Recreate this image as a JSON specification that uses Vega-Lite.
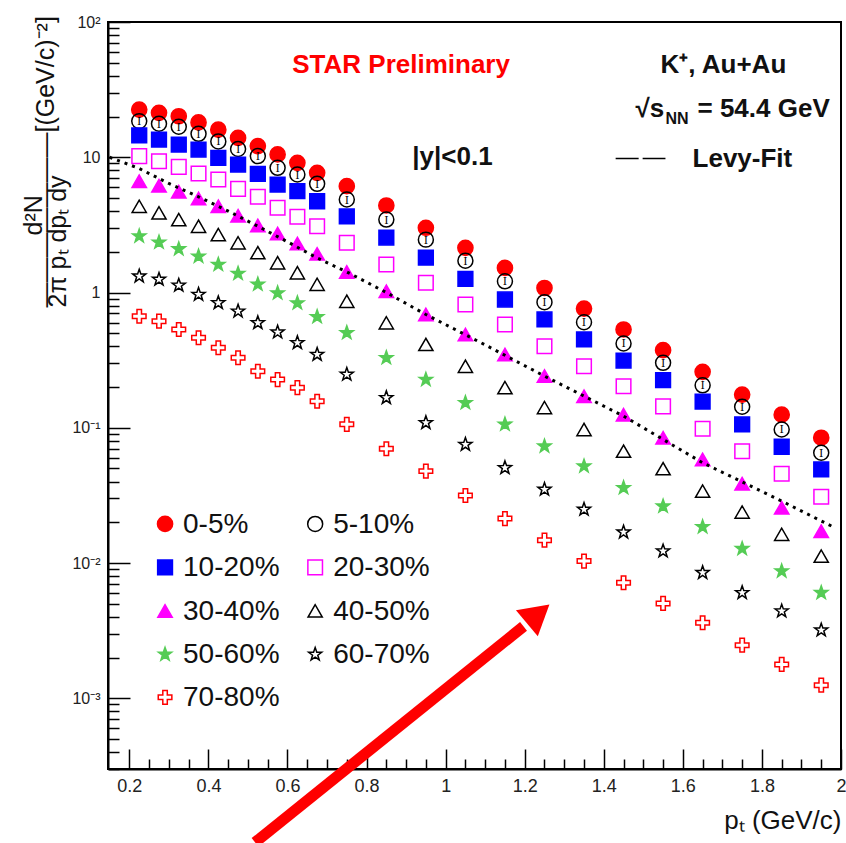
{
  "$schema": "https://vega.github.io/schema/vega-lite/v6.json",
  "width": 733,
  "height": 747,
  "autosize": {"type": "none"},
  "padding": {"left": 108, "top": 22, "right": 5, "bottom": 74},
  "background": "white",
  "config": {
    "font": "Liberation Sans",
    "view": {"stroke": "black", "strokeWidth": 2},
    "axis": {"grid": false, "domainColor": "black", "domainWidth": 2, "tickColor": "black", "tickWidth": 1.5, "labelColor": "#222", "titleColor": "#111", "titleFontWeight": "normal", "labelOverlap": false, "labelBound": false, "labelFlush": false}
  },
  "datasets": {
    "spectra": [
      {"c":"0-5%","pt":0.225,"v":22.5},{"c":"0-5%","pt":0.275,"v":21.3},{"c":"0-5%","pt":0.325,"v":20.1},{"c":"0-5%","pt":0.375,"v":18.1},{"c":"0-5%","pt":0.425,"v":16.0},{"c":"0-5%","pt":0.475,"v":13.9},{"c":"0-5%","pt":0.525,"v":12.1},{"c":"0-5%","pt":0.575,"v":10.5},{"c":"0-5%","pt":0.625,"v":9.09},{"c":"0-5%","pt":0.675,"v":7.67},{"c":"0-5%","pt":0.75,"v":6.11},{"c":"0-5%","pt":0.85,"v":4.40},{"c":"0-5%","pt":0.95,"v":3.01},{"c":"0-5%","pt":1.05,"v":2.14},{"c":"0-5%","pt":1.15,"v":1.52},{"c":"0-5%","pt":1.25,"v":1.08},{"c":"0-5%","pt":1.35,"v":0.761},{"c":"0-5%","pt":1.45,"v":0.533},{"c":"0-5%","pt":1.55,"v":0.375},{"c":"0-5%","pt":1.65,"v":0.259},{"c":"0-5%","pt":1.75,"v":0.176},{"c":"0-5%","pt":1.85,"v":0.125},{"c":"0-5%","pt":1.95,"v":0.0844},
      {"c":"5-10%","pt":0.225,"v":18.5},{"c":"5-10%","pt":0.275,"v":17.7},{"c":"5-10%","pt":0.325,"v":16.8},{"c":"5-10%","pt":0.375,"v":14.9},{"c":"5-10%","pt":0.425,"v":13.1},{"c":"5-10%","pt":0.475,"v":11.5},{"c":"5-10%","pt":0.525,"v":10.2},{"c":"5-10%","pt":0.575,"v":8.35},{"c":"5-10%","pt":0.625,"v":7.45},{"c":"5-10%","pt":0.675,"v":6.36},{"c":"5-10%","pt":0.75,"v":4.87},{"c":"5-10%","pt":0.85,"v":3.46},{"c":"5-10%","pt":0.95,"v":2.46},{"c":"5-10%","pt":1.05,"v":1.72},{"c":"5-10%","pt":1.15,"v":1.21},{"c":"5-10%","pt":1.25,"v":0.848},{"c":"5-10%","pt":1.35,"v":0.603},{"c":"5-10%","pt":1.45,"v":0.42},{"c":"5-10%","pt":1.55,"v":0.302},{"c":"5-10%","pt":1.65,"v":0.206},{"c":"5-10%","pt":1.75,"v":0.143},{"c":"5-10%","pt":1.85,"v":0.0971},{"c":"5-10%","pt":1.95,"v":0.0654},
      {"c":"10-20%","pt":0.225,"v":14.5},{"c":"10-20%","pt":0.275,"v":13.5},{"c":"10-20%","pt":0.325,"v":12.4},{"c":"10-20%","pt":0.375,"v":11.4},{"c":"10-20%","pt":0.425,"v":9.9},{"c":"10-20%","pt":0.475,"v":8.83},{"c":"10-20%","pt":0.525,"v":7.54},{"c":"10-20%","pt":0.575,"v":6.28},{"c":"10-20%","pt":0.625,"v":5.61},{"c":"10-20%","pt":0.675,"v":4.73},{"c":"10-20%","pt":0.75,"v":3.65},{"c":"10-20%","pt":0.85,"v":2.55},{"c":"10-20%","pt":0.95,"v":1.81},{"c":"10-20%","pt":1.05,"v":1.26},{"c":"10-20%","pt":1.15,"v":0.888},{"c":"10-20%","pt":1.25,"v":0.632},{"c":"10-20%","pt":1.35,"v":0.45},{"c":"10-20%","pt":1.45,"v":0.314},{"c":"10-20%","pt":1.55,"v":0.225},{"c":"10-20%","pt":1.65,"v":0.156},{"c":"10-20%","pt":1.75,"v":0.106},{"c":"10-20%","pt":1.85,"v":0.0724},{"c":"10-20%","pt":1.95,"v":0.0492},
      {"c":"20-30%","pt":0.225,"v":10.2},{"c":"20-30%","pt":0.275,"v":9.34},{"c":"20-30%","pt":0.325,"v":8.49},{"c":"20-30%","pt":0.375,"v":7.58},{"c":"20-30%","pt":0.425,"v":6.84},{"c":"20-30%","pt":0.475,"v":5.84},{"c":"20-30%","pt":0.525,"v":5.1},{"c":"20-30%","pt":0.575,"v":4.23},{"c":"20-30%","pt":0.625,"v":3.63},{"c":"20-30%","pt":0.675,"v":3.09},{"c":"20-30%","pt":0.75,"v":2.33},{"c":"20-30%","pt":0.85,"v":1.61},{"c":"20-30%","pt":0.95,"v":1.18},{"c":"20-30%","pt":1.05,"v":0.815},{"c":"20-30%","pt":1.15,"v":0.58},{"c":"20-30%","pt":1.25,"v":0.401},{"c":"20-30%","pt":1.35,"v":0.285},{"c":"20-30%","pt":1.45,"v":0.203},{"c":"20-30%","pt":1.55,"v":0.144},{"c":"20-30%","pt":1.65,"v":0.0983},{"c":"20-30%","pt":1.75,"v":0.0671},{"c":"20-30%","pt":1.85,"v":0.0457},{"c":"20-30%","pt":1.95,"v":0.0309},
      {"c":"30-40%","pt":0.225,"v":6.65},{"c":"30-40%","pt":0.275,"v":6.16},{"c":"30-40%","pt":0.325,"v":5.56},{"c":"30-40%","pt":0.375,"v":4.95},{"c":"30-40%","pt":0.425,"v":4.34},{"c":"30-40%","pt":0.475,"v":3.69},{"c":"30-40%","pt":0.525,"v":3.13},{"c":"30-40%","pt":0.575,"v":2.73},{"c":"30-40%","pt":0.625,"v":2.30},{"c":"30-40%","pt":0.675,"v":1.93},{"c":"30-40%","pt":0.75,"v":1.42},{"c":"30-40%","pt":0.85,"v":1.02},{"c":"30-40%","pt":0.95,"v":0.688},{"c":"30-40%","pt":1.05,"v":0.489},{"c":"30-40%","pt":1.15,"v":0.348},{"c":"30-40%","pt":1.25,"v":0.241},{"c":"30-40%","pt":1.35,"v":0.171},{"c":"30-40%","pt":1.45,"v":0.125},{"c":"30-40%","pt":1.55,"v":0.0843},{"c":"30-40%","pt":1.65,"v":0.0583},{"c":"30-40%","pt":1.75,"v":0.0386},{"c":"30-40%","pt":1.85,"v":0.0256},{"c":"30-40%","pt":1.95,"v":0.0172},
      {"c":"40-50%","pt":0.225,"v":4.34},{"c":"40-50%","pt":0.275,"v":3.88},{"c":"40-50%","pt":0.325,"v":3.46},{"c":"40-50%","pt":0.375,"v":3.09},{"c":"40-50%","pt":0.425,"v":2.68},{"c":"40-50%","pt":0.475,"v":2.33},{"c":"40-50%","pt":0.525,"v":1.97},{"c":"40-50%","pt":0.575,"v":1.66},{"c":"40-50%","pt":0.625,"v":1.40},{"c":"40-50%","pt":0.675,"v":1.15},{"c":"40-50%","pt":0.75,"v":0.862},{"c":"40-50%","pt":0.85,"v":0.597},{"c":"40-50%","pt":0.95,"v":0.413},{"c":"40-50%","pt":1.05,"v":0.285},{"c":"40-50%","pt":1.15,"v":0.198},{"c":"40-50%","pt":1.25,"v":0.141},{"c":"40-50%","pt":1.35,"v":0.0971},{"c":"40-50%","pt":1.45,"v":0.0671},{"c":"40-50%","pt":1.55,"v":0.0498},{"c":"40-50%","pt":1.65,"v":0.034},{"c":"40-50%","pt":1.75,"v":0.0238},{"c":"40-50%","pt":1.85,"v":0.0163},{"c":"40-50%","pt":1.95,"v":0.01125},
      {"c":"50-60%","pt":0.225,"v":2.61},{"c":"50-60%","pt":0.275,"v":2.35},{"c":"50-60%","pt":0.325,"v":2.10},{"c":"50-60%","pt":0.375,"v":1.85},{"c":"50-60%","pt":0.425,"v":1.61},{"c":"50-60%","pt":0.475,"v":1.38},{"c":"50-60%","pt":0.525,"v":1.15},{"c":"50-60%","pt":0.575,"v":0.99},{"c":"50-60%","pt":0.625,"v":0.835},{"c":"50-60%","pt":0.675,"v":0.661},{"c":"50-60%","pt":0.75,"v":0.504},{"c":"50-60%","pt":0.85,"v":0.329},{"c":"50-60%","pt":0.95,"v":0.227},{"c":"50-60%","pt":1.05,"v":0.153},{"c":"50-60%","pt":1.15,"v":0.106},{"c":"50-60%","pt":1.25,"v":0.0731},{"c":"50-60%","pt":1.35,"v":0.052},{"c":"50-60%","pt":1.45,"v":0.036},{"c":"50-60%","pt":1.55,"v":0.0263},{"c":"50-60%","pt":1.65,"v":0.0185},{"c":"50-60%","pt":1.75,"v":0.01276},{"c":"50-60%","pt":1.85,"v":0.00871},{"c":"50-60%","pt":1.95,"v":0.00603},
      {"c":"60-70%","pt":0.225,"v":1.32},{"c":"60-70%","pt":0.275,"v":1.25},{"c":"60-70%","pt":0.325,"v":1.13},{"c":"60-70%","pt":0.375,"v":0.967},{"c":"60-70%","pt":0.425,"v":0.839},{"c":"60-70%","pt":0.475,"v":0.727},{"c":"60-70%","pt":0.525,"v":0.597},{"c":"60-70%","pt":0.575,"v":0.509},{"c":"60-70%","pt":0.625,"v":0.425},{"c":"60-70%","pt":0.675,"v":0.348},{"c":"60-70%","pt":0.75,"v":0.248},{"c":"60-70%","pt":0.85,"v":0.1667},{"c":"60-70%","pt":0.95,"v":0.1089},{"c":"60-70%","pt":1.05,"v":0.0752},{"c":"60-70%","pt":1.15,"v":0.0506},{"c":"60-70%","pt":1.25,"v":0.035},{"c":"60-70%","pt":1.35,"v":0.0249},{"c":"60-70%","pt":1.45,"v":0.0169},{"c":"60-70%","pt":1.55,"v":0.01225},{"c":"60-70%","pt":1.65,"v":0.00848},{"c":"60-70%","pt":1.75,"v":0.00603},{"c":"60-70%","pt":1.85,"v":0.00441},{"c":"60-70%","pt":1.95,"v":0.00319},
      {"c":"70-80%","pt":0.225,"v":0.668},{"c":"70-80%","pt":0.275,"v":0.614},{"c":"70-80%","pt":0.325,"v":0.533},{"c":"70-80%","pt":0.375,"v":0.463},{"c":"70-80%","pt":0.425,"v":0.390},{"c":"70-80%","pt":0.475,"v":0.329},{"c":"70-80%","pt":0.525,"v":0.262},{"c":"70-80%","pt":0.575,"v":0.227},{"c":"70-80%","pt":0.625,"v":0.198},{"c":"70-80%","pt":0.675,"v":0.157},{"c":"70-80%","pt":0.75,"v":0.106},{"c":"70-80%","pt":0.85,"v":0.070},{"c":"70-80%","pt":0.95,"v":0.0478},{"c":"70-80%","pt":1.05,"v":0.0316},{"c":"70-80%","pt":1.15,"v":0.0213},{"c":"70-80%","pt":1.25,"v":0.01476},{"c":"70-80%","pt":1.35,"v":0.01033},{"c":"70-80%","pt":1.45,"v":0.00715},{"c":"70-80%","pt":1.55,"v":0.00503},{"c":"70-80%","pt":1.65,"v":0.00362},{"c":"70-80%","pt":1.75,"v":0.00247},{"c":"70-80%","pt":1.85,"v":0.00178},{"c":"70-80%","pt":1.95,"v":0.00125}
    ],
    "key": [
      {"c":"0-5%","pt":0.2903,"v":0.01945},{"c":"5-10%","pt":0.670,"v":0.01945},
      {"c":"10-20%","pt":0.2903,"v":0.00928},{"c":"20-30%","pt":0.670,"v":0.00928},
      {"c":"30-40%","pt":0.2903,"v":0.004426},{"c":"40-50%","pt":0.670,"v":0.004426},
      {"c":"50-60%","pt":0.2903,"v":0.002111},{"c":"60-70%","pt":0.670,"v":0.002111},
      {"c":"70-80%","pt":0.2903,"v":0.001016}
    ],
    "levy": [
      {"pt":0.15,"v":10.0},{"pt":0.225,"v":8.26},{"pt":0.3,"v":6.4},{"pt":0.375,"v":5.1},{"pt":0.45,"v":4.0},{"pt":0.525,"v":3.09},{"pt":0.6,"v":2.37},{"pt":0.675,"v":1.80},{"pt":0.75,"v":1.42},{"pt":0.85,"v":1.0},{"pt":0.95,"v":0.688},{"pt":1.1,"v":0.41},{"pt":1.25,"v":0.241},{"pt":1.45,"v":0.122},{"pt":1.65,"v":0.0551},{"pt":1.85,"v":0.0287},{"pt":1.98,"v":0.0185}
    ],
    "notesRed": [{"t":"STAR Preliminary","pt":0.612,"v":42.3}],
    "notesBig": [
      {"t":"K⁺, Au+Au","pt":1.5435,"v":42.3},
      {"t":"√s","pt":1.48,"v":20.0},
      {"t":"= 54.4 GeV","pt":1.637,"v":20.0},
      {"t":"|y|<0.1","pt":0.9156,"v":8.83},
      {"t":"Levy-Fit","pt":1.6245,"v":8.4}
    ],
    "notesSmall": [{"t":"NN","pt":1.556,"v":17.76}],
    "fitKey": [{"pt":1.43,"v":9.78},{"pt":1.556,"v":9.78}],
    "arrowShaft": [{"pt":0.518,"v":0.000086},{"pt":1.197,"v":0.0034}],
    "arrowHead": [{"pt":1.234,"v":0.00421}]
  },
  "encoding": {
    "x": {
      "field": "pt", "type": "quantitative",
      "scale": {"domain": [0.146, 2.0], "nice": false, "zero": false},
      "axis": {
        "orient": "bottom",
        "values": [0.2,0.25,0.3,0.35,0.4,0.45,0.5,0.55,0.6,0.65,0.7,0.75,0.8,0.85,0.9,0.95,1,1.05,1.1,1.15,1.2,1.25,1.3,1.35,1.4,1.45,1.5,1.55,1.6,1.65,1.7,1.75,1.8,1.85,1.9,1.95,2],
        "labelExpr": "indexof([0.2,0.4,0.6,0.8,1,1.2,1.4,1.6,1.8,2], datum.value) >= 0 ? format(datum.value, '~g') : ''",
        "tickSize": -20,
        "tickDash": {"condition": {"test": "indexof([0.2,0.4,0.6,0.8,1,1.2,1.4,1.6,1.8,2], datum.value) >= 0", "value": [40, 0]}, "value": [10, 40]},
        "labelFontSize": 18,
        "labelPadding": 28,
        "title": "pₜ (GeV/c)",
        "titleFontSize": 26,
        "titleAnchor": "end",
        "titleAlign": "right",
        "titlePadding": 12
      }
    },
    "y": {
      "field": "v", "type": "quantitative",
      "scale": {"type": "log", "domain": [0.0003, 100], "nice": false},
      "axis": {
        "orient": "left",
        "values": [0.0003,0.0004,0.0005,0.0006,0.0007,0.0008,0.0009,0.001,0.002,0.003,0.004,0.005,0.006,0.007,0.008,0.009,0.01,0.02,0.03,0.04,0.05,0.06,0.07,0.08,0.09,0.1,0.2,0.3,0.4,0.5,0.6,0.7,0.8,0.9,1,2,3,4,5,6,7,8,9,10,20,30,40,50,60,70,80,90,100],
        "labelExpr": "datum.value == 100 ? '10²' : datum.value == 10 ? '10' : datum.value == 1 ? '1' : datum.value == 0.1 ? '10⁻¹' : datum.value == 0.01 ? '10⁻²' : datum.value == 0.001 ? '10⁻³' : ''",
        "tickSize": -22,
        "tickDash": {"condition": {"test": "indexof([100,10,1,0.1,0.01,0.001], datum.value) >= 0", "value": [40, 0]}, "value": [11, 40]},
        "labelFontSize": 16,
        "labelPadding": 30,
        "title": ["\u2800\u2800\u2800\u2800d²N", "———————[(GeV/c)⁻²]", "2π pₜ dpₜ dy"],
        "titleFontSize": 25,
        "titleLineHeight": 12,
        "titleAngle": 270,
        "titleAlign": "left",
        "titleBaseline": "alphabetic",
        "titleX": -67,
        "titleY": 285
      }
    }
  },
  "layer": [
    {
      "data": {"name": "spectra"},
      "mark": {"type": "point", "opacity": 1, "strokeWidth": 1.5},
      "encoding": {
        "shape": {"field": "c", "type": "nominal", "legend": null,
          "scale": {"domain": ["0-5%","5-10%","10-20%","20-30%","30-40%","40-50%","50-60%","60-70%","70-80%"],
                    "range": ["circle","circle","square","square","triangle-up","triangle-up",
                              "M0,-1L0.235,-0.324L0.951,-0.309L0.38,0.124L0.588,0.809L0,0.4L-0.588,0.809L-0.38,0.124L-0.951,-0.309L-0.235,-0.324Z",
                              "M0,-1L0.235,-0.324L0.951,-0.309L0.38,0.124L0.588,0.809L0,0.4L-0.588,0.809L-0.38,0.124L-0.951,-0.309L-0.235,-0.324Z",
                              "M-0.33,-1H0.33V-0.33H1V0.33H0.33V1H-0.33V0.33H-1V-0.33H-0.33Z"]}},
        "fill": {"field": "c", "type": "nominal", "legend": null,
          "scale": {"domain": ["0-5%","5-10%","10-20%","20-30%","30-40%","40-50%","50-60%","60-70%","70-80%"],
                    "range": ["#ff0000","transparent","#0000ff","transparent","#ff00ff","transparent","#55cc55","transparent","transparent"]}},
        "stroke": {"field": "c", "type": "nominal", "legend": null,
          "scale": {"domain": ["0-5%","5-10%","10-20%","20-30%","30-40%","40-50%","50-60%","60-70%","70-80%"],
                    "range": ["#ff0000","#000000","#0000ff","#ff00ff","#ff00ff","#000000","#55cc55","#000000","#ff0000"]}},
        "size": {"field": "c", "type": "nominal", "legend": null,
          "scale": {"domain": ["0-5%","5-10%","10-20%","20-30%","30-40%","40-50%","50-60%","60-70%","70-80%"],
                    "range": [230, 185, 200, 200, 380, 380, 480, 480, 441]}}
      }
    },
    {
      "data": {"name": "spectra"},
      "transform": [{"filter": "datum.c == '5-10%'"}],
      "mark": {"type": "text", "text": "I", "font": "DejaVu Serif", "fontSize": 11, "baseline": "middle", "align": "center", "color": "#000", "dy": 1}
    },
    {
      "data": {"name": "key"},
      "mark": {"type": "point", "opacity": 1, "strokeWidth": 1.5},
      "encoding": {
        "shape": {"field": "c", "type": "nominal", "legend": null},
        "fill": {"field": "c", "type": "nominal", "legend": null},
        "stroke": {"field": "c", "type": "nominal", "legend": null},
        "size": {"field": "c", "type": "nominal", "legend": null}
      }
    },
    {
      "data": {"name": "key"},
      "mark": {"type": "text", "align": "left", "baseline": "middle", "dx": 18, "dy": 1, "fontSize": 28, "color": "#111"},
      "encoding": {"text": {"field": "c"}}
    },
    {
      "data": {"name": "levy"},
      "mark": {"type": "line", "color": "black", "strokeWidth": 3, "strokeDash": [3, 5]},
      "encoding": {}
    },
    {
      "data": {"name": "notesRed"},
      "mark": {"type": "text", "align": "left", "baseline": "alphabetic", "fontSize": 26, "fontWeight": "bold", "color": "#ff0000"},
      "encoding": {"text": {"field": "t"}}
    },
    {
      "data": {"name": "notesBig"},
      "mark": {"type": "text", "align": "left", "baseline": "alphabetic", "fontSize": 26, "fontWeight": "bold", "color": "#111"},
      "encoding": {"text": {"field": "t"}}
    },
    {
      "data": {"name": "notesSmall"},
      "mark": {"type": "text", "align": "left", "baseline": "alphabetic", "fontSize": 16, "fontWeight": "bold", "color": "#111"},
      "encoding": {"text": {"field": "t"}}
    },
    {
      "data": {"name": "fitKey"},
      "mark": {"type": "line", "color": "black", "strokeWidth": 1.5, "strokeDash": [23, 4]},
      "encoding": {}
    },
    {
      "data": {"name": "arrowShaft"},
      "mark": {"type": "line", "color": "#ff0000", "strokeWidth": 11, "strokeCap": "butt"},
      "encoding": {}
    },
    {
      "data": {"name": "arrowHead"},
      "mark": {"type": "point", "shape": "triangle-up", "filled": true, "opacity": 1, "color": "#ff0000", "size": 1156, "angle": 50},
      "encoding": {}
    }
  ]
}
